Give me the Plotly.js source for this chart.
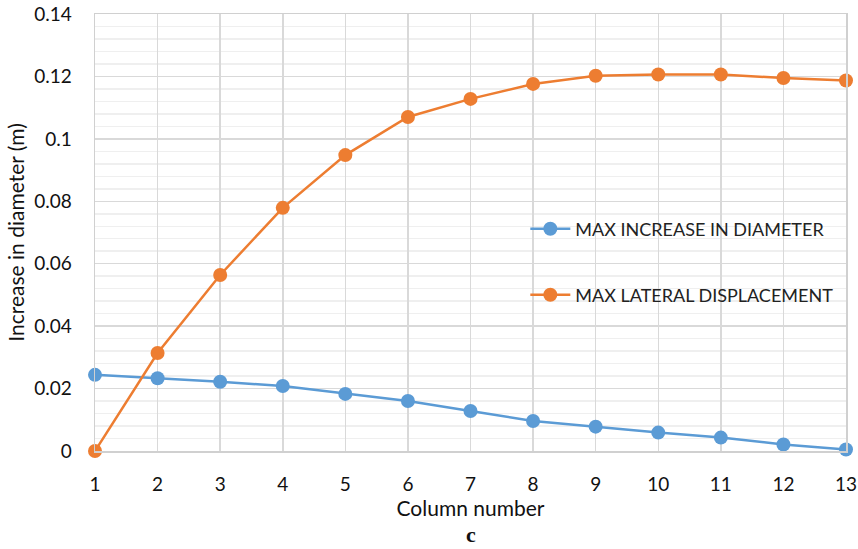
<!DOCTYPE html>
<html><head><meta charset="utf-8">
<script src="https://cdn.plot.ly/plotly-3.0.1.min.js"></script>
<style>body{margin:0;background:#fff}#c{width:858px;height:549px}</style>
</head><body><div id="c"></div>
<script>
const columns = [1,2,3,4,5,6,7,8,9,10,11,12,13];
const maxIncreaseDiameter = [0.0244,0.0233,0.0222,0.0208,0.0183,0.0160,0.0128,0.0096,0.0078,0.0059,0.0043,0.0021,0.0005];
const maxLateralDisp = [0.0,0.0314,0.0564,0.0779,0.0948,0.1070,0.1128,0.1176,0.1202,0.1206,0.1206,0.1195,0.1187];
const yTicks = [0,0.02,0.04,0.06,0.08,0.1,0.12,0.14];
const yTickText = ["0","0.02","0.04","0.06","0.08","0.1","0.12","0.14"];

const font = "Lato, 'Open Sans', sans-serif";
const traces = [
  {x: columns, y: maxIncreaseDiameter, name: "MAX INCREASE IN DIAMETER", mode: "lines+markers",
   line: {color: "#5b9bd5", width: 2.5}, marker: {color: "#5b9bd5", size: 14}, cliponaxis: false, legend: "legend"},
  {x: columns, y: maxLateralDisp, name: "MAX LATERAL DISPLACEMENT", mode: "lines+markers",
   line: {color: "#ed7d31", width: 2.5}, marker: {color: "#ed7d31", size: 14}, cliponaxis: false, legend: "legend2"}
];
const legendBase = {bgcolor: "rgba(0,0,0,0)", font: {family: font, size: 18, color: "#222"}, xanchor: "left", yanchor: "middle", itemwidth: 40};
const layout = {
  width: 858, height: 549,
  margin: {l: 95, r: 12, t: 14, b: 98},
  paper_bgcolor: "#fff", plot_bgcolor: "#fff",
  font: {family: font, color: "#111"},
  xaxis: {range: [1, 13], tickvals: columns, ticktext: columns.map(String), showgrid: true, gridcolor: "#d9d9d9", gridwidth: 1.5,
    zeroline: false, showline: true, linecolor: "#d0d0d0", linewidth: 1.5, mirror: true, ticks: "outside", ticklen: 16, tickcolor: "rgba(0,0,0,0)",
    tickfont: {size: 19, family: font}, title: {text: "Column number", font: {size: 21, family: font}, standoff: 0}},
  yaxis: {range: [0, 0.14], tickvals: yTicks, ticktext: yTickText, showgrid: true, gridcolor: "#d9d9d9", gridwidth: 1.5,
    minor: {dtick: 0.004, showgrid: true, gridcolor: "#efefef", gridwidth: 1.5},
    zeroline: false, showline: true, linecolor: "#d0d0d0", linewidth: 1.5, mirror: true, ticks: "outside", ticklen: 18, tickcolor: "rgba(0,0,0,0)",
    tickfont: {size: 19, family: font}, title: {text: "Increase in diameter (m)", font: {size: 21, family: font}, standoff: 4}},
  legend: Object.assign({}, legendBase, {x: 0.573, y: 0.508}),
  legend2: Object.assign({}, legendBase, {x: 0.573, y: 0.357}),
  showlegend: true,
  annotations: [{text: "<b>c</b>", xref: "paper", yref: "paper", x: 0.5, y: -0.19, yanchor: "middle", showarrow: false,
    font: {family: "'Liberation Serif', serif", size: 22, color: "#111"}}]
};
Plotly.newPlot("c", traces, layout, {displayModeBar: false, staticPlot: true});
</script></body></html>
